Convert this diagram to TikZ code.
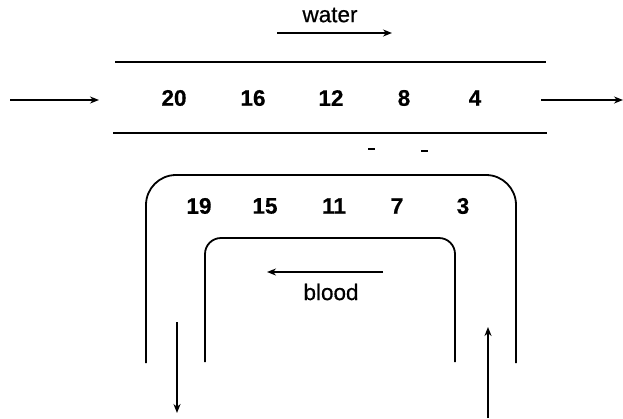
\documentclass[tikz,border=0pt]{standalone}
\usepackage{fontspec}
\setmainfont{Liberation Sans}[FakeBold=0.6]
\usetikzlibrary{arrows.meta}
\begin{document}
\begin{tikzpicture}[x=1pt,y=-1pt,
  num/.style={font=\fontsize{22.5}{26}\selectfont\bfseries, inner sep=0pt},
  lbl/.style={font=\fontsize{22.5}{26}\selectfont, inner sep=0pt},
  wall/.style={line width=1.8pt},
  flow/.style={line width=1.6pt, -{Stealth[length=9pt,width=7pt]}}]
\useasboundingbox (0,0) rectangle (623,418);
% water channel
\draw[line width=1.2pt] (115,62) -- (546,62);
\draw[line width=1.6pt] (113,133) -- (547,133);
\node[lbl] (water) at (330,15) {water};
\coordinate (w1) at (277,33); \coordinate (w2) at (392,33);
\draw[flow] (w1) -- (w2);
\coordinate (in1) at (10,100); \coordinate (in2) at (99,100);
\draw[flow] (in1) -- (in2);
\coordinate (out1) at (541,100); \coordinate (out2) at (623,100);
\draw[flow] (out1) -- (out2);
\node[num] (n20) at (174,98) {20};
\node[num] (n16) at (253,98) {16};
\node[num] (n12) at (331,98) {12};
\node[num] (n8)  at (404,98) {8};
\node[num] (n4)  at (475,98) {4};
% dashes
\draw[line width=2.2pt] (368,149) -- (375,149);
\draw[line width=2.2pt] (421,151) -- (428,151);
% blood loop
\draw[wall, rounded corners=30pt] (146,363) -- (146,175) -- (516,175) -- (516,363);
\draw[wall, rounded corners=16pt] (205,362) -- (205,238) -- (455,238) -- (455,362);
\node[num] (n19) at (199,206) {19};
\node[num] (n15) at (265,206) {15};
\node[num] (n11) at (334,206) {11};
\node[num] (n7)  at (397,206) {7};
\node[num] (n3)  at (463,206) {3};
\coordinate (b1) at (383,272); \coordinate (b2) at (267,272);
\draw[flow] (b1) -- (b2);
\node[lbl] (blood) at (331,292) {blood};
\coordinate (d1) at (177,322); \coordinate (d2) at (177,413);
\draw[flow] (d1) -- (d2);
\coordinate (u1) at (488,418); \coordinate (u2) at (488,327);
\draw[flow] (u1) -- (u2);
\end{tikzpicture}
\end{document}
